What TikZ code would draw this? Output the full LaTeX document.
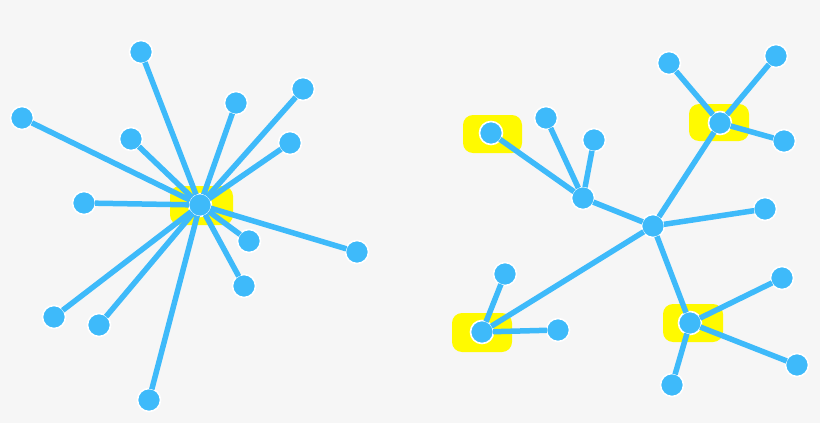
\documentclass[tikz,border=0pt]{standalone}
\definecolor{bg}{RGB}{246,246,246}
\definecolor{nodeblue}{RGB}{62,186,250}
\definecolor{hl}{RGB}{255,250,0}
\tikzset{
  dot/.style={circle,fill=nodeblue,draw=white,line width=1.6pt,minimum size=23pt,inner sep=0pt},
  edge/.style={nodeblue,line width=5.5pt,shorten <=11pt,shorten >=11pt},
  blob/.style={fill=hl,rounded corners=10pt}
}
\begin{document}
\begin{tikzpicture}[x=1pt,y=-1pt]
\fill[bg] (0,0) rectangle (820,423);
\useasboundingbox (0,0) rectangle (820,423);
% highlights
\fill[blob] (170,186) rectangle (233,225);
\fill[blob] (463,115) rectangle (522,153);
\fill[blob] (689,104) rectangle (749,141);
\fill[blob] (452,313) rectangle (512,352);
\fill[blob] (663,304) rectangle (723,342);
% left star
\node[dot] (c) at (200,205) {};
\foreach \n/\x/\y in {a1/141/52,a2/22/118,a3/236/103,a4/303/89,a5/131/139,a6/290/143,a7/84/203,a8/249/241,a9/357/252,a10/244/286,a11/54/317,a12/99/325,a13/149/400}{
  \node[dot] (\n) at (\x,\y) {};
}
\foreach \n in {a1,a2,a3,a4,a5,a6,a7,a8,a9,a10,a11,a12,a13}{
  \draw[edge] (c.center) -- (\n.center);
}
% right tree
\node[dot] (h) at (653,226) {};
\node[dot] (s) at (583,198) {};
\node[dot] (t1) at (720,123) {};
\node[dot] (t2) at (482,332) {};
\node[dot] (t3) at (690,323) {};
\node[dot] (l1) at (765,209) {};
\node[dot] (s1) at (491,133) {};
\node[dot] (s2) at (546,118) {};
\node[dot] (s3) at (594,140) {};
\node[dot] (u1) at (669,63) {};
\node[dot] (u2) at (776,56) {};
\node[dot] (u3) at (784,141) {};
\node[dot] (v1) at (505,274) {};
\node[dot] (v2) at (558,330) {};
\node[dot] (w1) at (782,278) {};
\node[dot] (w2) at (797,365) {};
\node[dot] (w3) at (672,385) {};
\foreach \a/\b in {h/s,h/t1,h/l1,h/t2,h/t3,s/s1,s/s2,s/s3,t1/u1,t1/u2,t1/u3,t2/v1,t2/v2,t3/w1,t3/w2,t3/w3}{
  \draw[edge] (\a.center) -- (\b.center);
}
\end{tikzpicture}
\end{document}
